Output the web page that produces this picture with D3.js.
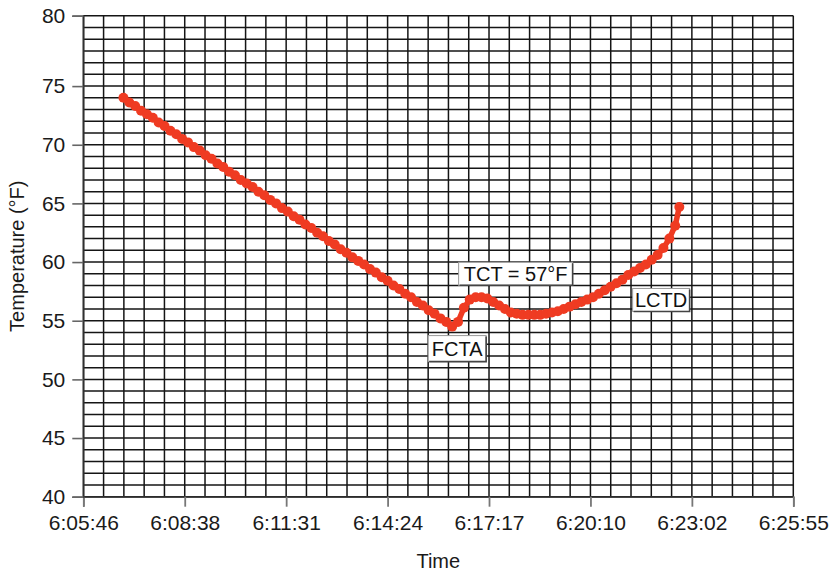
<!DOCTYPE html>
<html>
<head>
<meta charset="utf-8">
<script src="https://cdn.jsdelivr.net/npm/d3@7"></script>
<style>
  body { margin: 0; background: #fff; }
  svg text { font-family: "Liberation Sans", Arial, Helvetica, sans-serif; }
</style>
</head>
<body>
<svg id="chart" width="832" height="574"></svg>
<script>
// Logger readings: clock time of each sample and the temperature (°F)
const sampleTimes = [
  "6:06:54","6:07:04","6:07:14","6:07:24","6:07:34","6:07:44",
  "6:07:54","6:08:04","6:08:14","6:08:24","6:08:34","6:08:44",
  "6:08:54","6:09:04","6:09:14","6:09:24","6:09:34","6:09:44",
  "6:09:54","6:10:04","6:10:14","6:10:24","6:10:34","6:10:44",
  "6:10:54","6:11:04","6:11:14","6:11:24","6:11:34","6:11:44",
  "6:11:54","6:12:04","6:12:14","6:12:24","6:12:34","6:12:44",
  "6:12:54","6:13:04","6:13:14","6:13:24","6:13:34","6:13:44",
  "6:13:54","6:14:04","6:14:14","6:14:24","6:14:34","6:14:44",
  "6:14:54","6:15:04","6:15:14","6:15:24","6:15:34","6:15:44",
  "6:15:54","6:16:04","6:16:14","6:16:24","6:16:34","6:16:44",
  "6:16:54","6:17:04","6:17:14","6:17:24","6:17:34","6:17:44",
  "6:17:54","6:18:04","6:18:14","6:18:24","6:18:34","6:18:44",
  "6:18:54","6:19:04","6:19:14","6:19:24","6:19:34","6:19:44",
  "6:19:54","6:20:04","6:20:14","6:20:24","6:20:34","6:20:44",
  "6:20:54","6:21:04","6:21:14","6:21:24","6:21:34","6:21:44",
  "6:21:54","6:22:04","6:22:14","6:22:24","6:22:34","6:22:41"
];
const temperatures = [
  74.0, 73.6, 73.3, 72.9, 72.6, 72.3,
  71.9, 71.6, 71.2, 70.9, 70.5, 70.2,
  69.8, 69.5, 69.1, 68.8, 68.4, 68.1,
  67.7, 67.4, 67.0, 66.7, 66.4, 66.0,
  65.7, 65.3, 65.0, 64.6, 64.3, 63.9,
  63.6, 63.2, 62.9, 62.5, 62.2, 61.8,
  61.5, 61.1, 60.8, 60.4, 60.1, 59.8,
  59.4, 59.1, 58.7, 58.4, 58.0, 57.7,
  57.3, 57.0, 56.6, 56.3, 55.9, 55.6,
  55.2, 54.9, 54.5, 54.9, 56.1, 56.8,
  57.0, 57.0, 56.9, 56.6, 56.3, 56.0,
  55.7, 55.6, 55.5, 55.5, 55.5, 55.5,
  55.6, 55.7, 55.8, 56.0, 56.2, 56.4,
  56.6, 56.8, 57.0, 57.3, 57.6, 57.9,
  58.2, 58.5, 58.9, 59.2, 59.5, 59.8,
  60.2, 60.6, 61.2, 62.0, 63.1, 64.7
];

// Axis labelling
const xTickLabels = ["6:05:46","6:08:38","6:11:31","6:14:24","6:17:17","6:20:10","6:23:02","6:25:55"];
const yTickValues = [40, 45, 50, 55, 60, 65, 70, 75, 81];
const yTickLabels = ["40", "45", "50", "55", "60", "65", "70", "75", "80"];
const tctValue = 57;

// Time axis expressed as fractions of a day (spreadsheet style), converted to seconds
const DAY = 86400;
const xStart = 0.254 * DAY, xEnd = 0.268 * DAY;
const xMajor = 0.002 * DAY, xMinor = 0.0004 * DAY;

const toSeconds = s => { const [h, m, sec] = s.split(":").map(Number); return h * 3600 + m * 60 + sec; };
const data = sampleTimes.map((t, i) => ({ t: toSeconds(t), v: temperatures[i] }));

const svg = d3.select("#chart");
const plot = { left: 83.3, right: 793.3, top: 15.7, bottom: 496.7 };

const x = d3.scaleLinear().domain([xStart, xEnd]).range([plot.left, plot.right]);
const y = d3.scaleLinear().domain([40, 81]).range([plot.bottom, plot.top]);

const gridColor = "#151515";

// Grid: one line per degree, one per minor time step
const grid = svg.append("g").attr("class", "grid");
grid.selectAll("line.h").data(d3.range(40, 82)).join("line")
  .attr("class", "h")
  .attr("x1", plot.left).attr("x2", plot.right)
  .attr("y1", d => y(d)).attr("y2", d => y(d))
  .attr("stroke", gridColor).attr("stroke-width", 1.5);
grid.selectAll("line.v").data(d3.range(0, 36)).join("line")
  .attr("class", "v")
  .attr("x1", k => x(xStart + k * xMinor)).attr("x2", k => x(xStart + k * xMinor))
  .attr("y1", plot.top).attr("y2", plot.bottom)
  .attr("stroke", gridColor).attr("stroke-width", 1.5);

// Axes
const xTickPositions = d3.range(0, xTickLabels.length).map(k => xStart + k * xMajor);
const xAxis = d3.axisBottom(x)
  .tickValues(xTickPositions)
  .tickFormat((d, i) => xTickLabels[i])
  .tickSize(10).tickPadding(8);
const gx = svg.append("g").attr("transform", `translate(0,${plot.bottom})`).call(xAxis);
gx.select(".domain").attr("stroke", "#444").attr("stroke-width", 1.5);
gx.selectAll(".tick line").attr("stroke", "#777").attr("stroke-width", 1.8);
gx.selectAll(".tick text").attr("font-size", 21).attr("fill", "#1a1a1a")
  .attr("font-family", "Liberation Sans, Arial, sans-serif");

const yAxis = d3.axisLeft(y)
  .tickValues(yTickValues)
  .tickFormat((d, i) => yTickLabels[i])
  .tickSize(11).tickPadding(7);
const gy = svg.append("g").attr("transform", `translate(${plot.left},0)`).call(yAxis);
gy.select(".domain").attr("stroke", "#333").attr("stroke-width", 1.5);
gy.selectAll(".tick line").attr("stroke", "#666").attr("stroke-width", 1.6);
gy.selectAll(".tick text").attr("font-size", 21).attr("fill", "#1a1a1a")
  .attr("font-family", "Liberation Sans, Arial, sans-serif");

// Axis titles
svg.append("text")
  .attr("x", (plot.left + plot.right) / 2).attr("y", 568)
  .attr("text-anchor", "middle").attr("font-size", 20).attr("fill", "#1a1a1a")
  .text("Time");
svg.append("text")
  .attr("transform", `translate(24,${(plot.top + plot.bottom) / 2}) rotate(-90)`)
  .attr("text-anchor", "middle").attr("font-size", 20).attr("fill", "#1a1a1a")
  .text("Temperature (°F)");

// Temperature trace: connecting line under dense round markers
const red = "#ef3b22";
svg.append("path").datum(data)
  .attr("d", d3.line().x(d => x(d.t)).y(d => y(d.v)))
  .attr("fill", "none").attr("stroke", red).attr("stroke-width", 5.5)
  .attr("stroke-linejoin", "round");
svg.append("g").selectAll("circle").data(data).join("circle")
  .attr("cx", d => x(d.t)).attr("cy", d => y(d.v)).attr("r", 5)
  .attr("fill", red);

// Annotation boxes attached to notable readings
const minIdx = d3.minIndex(data.slice(0, 70), d => d.v);
const peakIdx = minIdx + d3.maxIndex(data.slice(minIdx, minIdx + 10), d => d.v);
const lctdIdx = 87;

function callout(label, cx, top, w, h) {
  const g = svg.append("g");
  g.append("rect").attr("x", cx - w / 2).attr("y", top).attr("width", w).attr("height", h)
    .attr("fill", "#fff").attr("stroke", "#999").attr("stroke-width", 1);
  g.append("polyline")
    .attr("points", `${cx + w / 2},${top + 1} ${cx + w / 2},${top + h} ${cx - w / 2 + 1},${top + h}`)
    .attr("fill", "none").attr("stroke", "#444").attr("stroke-width", 1.6);
  g.append("text").attr("x", cx).attr("y", top + h / 2 + 7.5)
    .attr("text-anchor", "middle").attr("font-size", 20).attr("fill", "#111")
    .text(label);
}

const pMin = data[minIdx], pPeak = data[peakIdx], pL = data[lctdIdx];
callout("FCTA", x(pMin.t) + 5, y(pMin.v) + 9, 58, 26);
callout(`TCT = ${tctValue}°F`, x(pPeak.t) + 40, y(tctValue) - 35, 114, 23);
callout("LCTD", x(pL.t) + 27, y(pL.v) + 17, 57, 23);
</script>
</body>
</html>
